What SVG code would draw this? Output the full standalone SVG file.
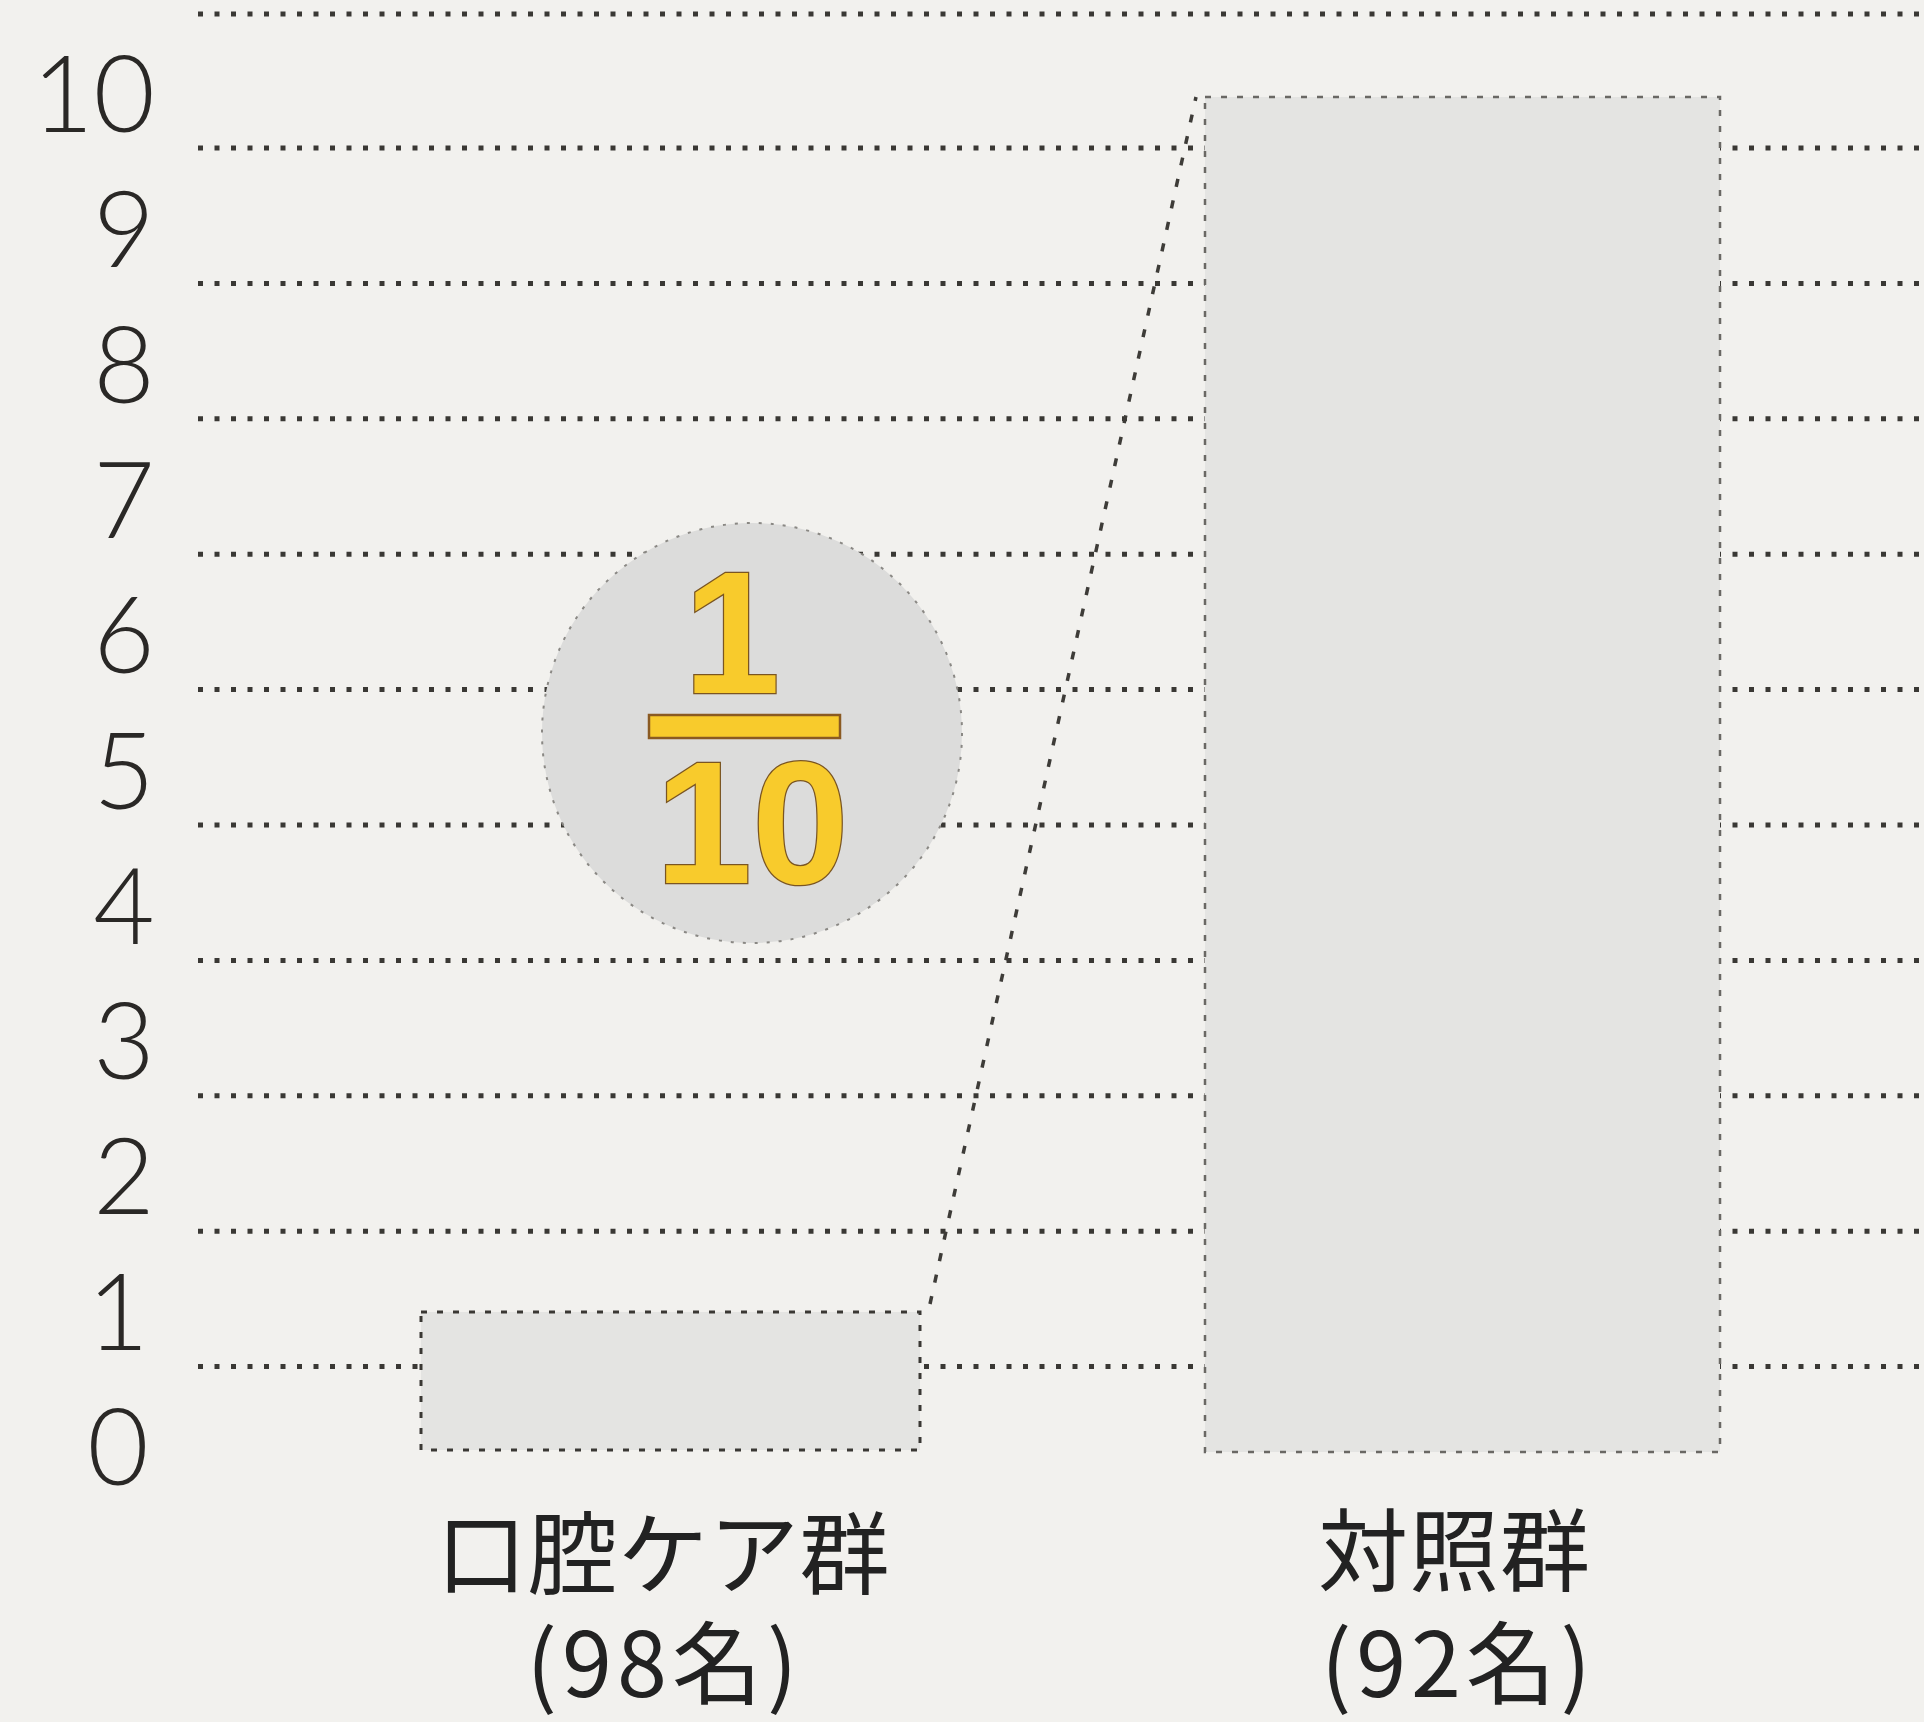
<svg xmlns="http://www.w3.org/2000/svg" width="1924" height="1722" viewBox="0 0 1924 1722">
<style>
.grid{stroke:#3a3834;stroke-width:5;stroke-dasharray:5 11.5;fill:none}
.axis{font-family:"Lato","Liberation Sans","DejaVu Sans",sans-serif;font-weight:300;font-size:106px;fill:#2a2826}
.cat{font-family:"Noto Sans CJK JP","Noto Sans CJK SC",sans-serif;font-size:90px;fill:#222}
.bar{fill:#e4e4e2;stroke:#3a3834;stroke-width:3;stroke-dasharray:6 10}
.frac{font-family:"Liberation Sans","DejaVu Sans",sans-serif;font-weight:bold;font-size:174px;fill:#f8cb2c;stroke:#7a5522;stroke-width:2.5;paint-order:stroke}
</style>
<rect x="0" y="0" width="1924" height="1722" fill="#f2f1ee"/>
<g id="gridlines">
<line class="grid" x1="198" y1="14" x2="1924" y2="14"/>
<line class="grid" x1="198" y1="148" x2="1924" y2="148"/>
<line class="grid" x1="198" y1="283.4" x2="1924" y2="283.4"/>
<line class="grid" x1="198" y1="418.8" x2="1924" y2="418.8"/>
<line class="grid" x1="198" y1="554.2" x2="1924" y2="554.2"/>
<line class="grid" x1="198" y1="689.6" x2="1924" y2="689.6"/>
<line class="grid" x1="198" y1="825" x2="1924" y2="825"/>
<line class="grid" x1="198" y1="960.4" x2="1924" y2="960.4"/>
<line class="grid" x1="198" y1="1095.8" x2="1924" y2="1095.8"/>
<line class="grid" x1="198" y1="1231.2" x2="1924" y2="1231.2"/>
<line class="grid" x1="198" y1="1366.6" x2="1924" y2="1366.6"/>
</g>
<g id="y-axis">
<text class="axis" x="155" y="132" text-anchor="end">10</text>
<text class="axis" x="124" y="267.3" text-anchor="middle">9</text>
<text class="axis" x="124" y="402.6" text-anchor="middle">8</text>
<text class="axis" x="124" y="537.9" text-anchor="middle">7</text>
<text class="axis" x="124" y="673.2" text-anchor="middle">6</text>
<text class="axis" x="124" y="808.5" text-anchor="middle">5</text>
<text class="axis" x="124" y="943.8" text-anchor="middle">4</text>
<text class="axis" x="124" y="1079.1" text-anchor="middle">3</text>
<text class="axis" x="124" y="1214.4" text-anchor="middle">2</text>
<text class="axis" x="118" y="1349.7" text-anchor="middle">1</text>
<text class="axis" x="118" y="1485" text-anchor="middle">0</text>
</g>
<g id="bar-oral-care">
<rect class="bar" x="421" y="1312" width="499" height="138"/>
<text class="cat" text-anchor="middle"><tspan x="663" y="1587" textLength="453" lengthAdjust="spacing">口腔ケア群</tspan><tspan x="662" y="1697" textLength="271" lengthAdjust="spacing">(98名)</tspan></text>
</g>
<g id="bar-control">
<rect class="bar" x="1205" y="97" width="515" height="1355" style="stroke:#6a6864;stroke-width:2.5"/>
<text class="cat" text-anchor="middle"><tspan x="1454" y="1584" textLength="272" lengthAdjust="spacing">対照群</tspan><tspan x="1456" y="1697" textLength="270" lengthAdjust="spacing">(92名)</tspan></text>
</g>
<g id="connectors">
<line x1="930" y1="1304" x2="1196" y2="97" stroke="#3e3c38" stroke-width="3.5" stroke-dasharray="8 14"/>
</g>
<g id="ratio-badge">
<circle cx="752" cy="733" r="210" fill="#dcdcdb" stroke="#8a8884" stroke-width="2" stroke-dasharray="3 9"/>
<text class="frac" x="732" y="693" text-anchor="middle">1</text>
<rect x="649" y="715" width="191" height="23" fill="#f8cb2c" stroke="#8a5a22" stroke-width="2.5"/>
<text class="frac" x="752" y="883" text-anchor="middle">10</text>
</g>
</svg>
